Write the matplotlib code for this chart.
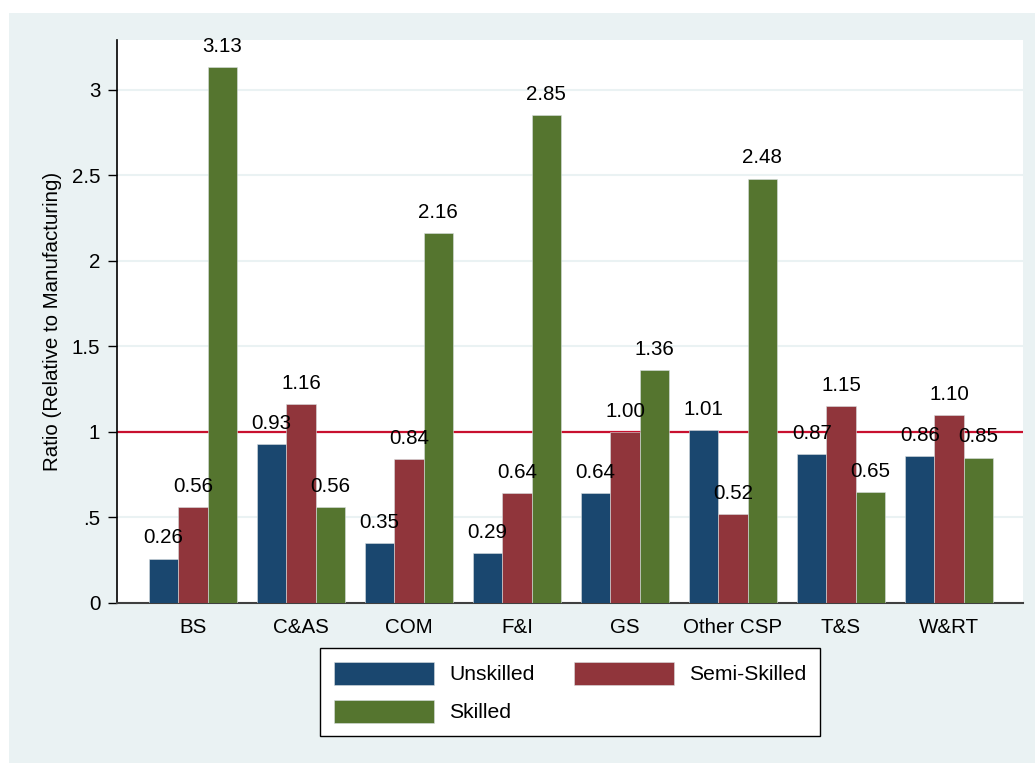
import matplotlib
matplotlib.use('Agg')
import matplotlib.pyplot as plt
import numpy as np
from matplotlib.patches import Rectangle

# Data
sectors = ['BS', 'C&AS', 'COM', 'F&I', 'GS', 'Other CSP', 'T&S', 'W&RT']
unskilled = [0.26, 0.93, 0.35, 0.29, 0.64, 1.01, 0.87, 0.86]
semi_skilled = [0.56, 1.16, 0.84, 0.64, 1.00, 0.52, 1.15, 1.10]
skilled = [3.13, 0.56, 2.16, 2.85, 1.36, 2.48, 0.65, 0.85]
series_names = ['Unskilled', 'Semi-Skilled', 'Skilled']
yticks = [0, 0.5, 1, 1.5, 2, 2.5, 3]
ytick_labels = ['0', '.5', '1', '1.5', '2', '2.5', '3']

#Stata s2color palette
colors = ('#1a476f', '#90353b', '#55752f')
bg = '#eaf2f3'

plt.rcParams['font.family'] = ['Liberation Sans', 'DejaVu Sans']

W, H = 1035, 763
fig = plt.figure(figsize=(W/100, H/100), dpi=100)
fig.patch.set_facecolor('white')
fig.add_artist(Rectangle((9/W, 0), 1 - 9/W, 1 - 13/H, transform=fig.transFigure,
						 facecolor=bg, edgecolor='none', zorder=-10))

ax = fig.add_axes([117/W, 1 - 603/H, (1022.5 - 117)/W, (603 - 40)/H])
ax.set_facecolor('white')

x = np.arange(len(sectors))
w = 0.2716
for k, vals in enumerate([unskilled, semi_skilled, skilled]):
	bars = ax.bar(x + (k - 1)*w, vals, width=w, color=colors[k], edgecolor='#d8dfe0',
				  linewidth=0.4, label=series_names[k], zorder=3)
	for b, v in zip(bars, vals):
		ax.annotate('{:.2f}'.format(v), (b.get_x() + b.get_width()/2, v),
					xytext=(0, 8), textcoords='offset points', ha='center', va='bottom',
					fontsize=14.8, zorder=5)

ax.axhline(1, color='#c8102e', linewidth=1.6, zorder=2)

ax.set_xlim(-0.7037, 7.68)
ax.set_ylim(0, 3.29)
ax.set_yticks(yticks)
ax.set_yticklabels(ytick_labels)
ax.set_xticks(x)
ax.set_xticklabels(sectors)
ax.tick_params(axis='y', length=6.5, width=1, pad=5.5, labelsize=14.8, color='black')
ax.tick_params(axis='x', length=0, pad=11, labelsize=14.8)
ax.grid(axis='y', color=bg, linewidth=1.5, zorder=0)
ax.set_axisbelow(True)

for s in ['top', 'right']:
	ax.spines[s].set_visible(False)
ax.spines['left'].set_color('black')
ax.spines['left'].set_linewidth(1.2)
ax.spines['bottom'].set_color('#404040')
ax.spines['bottom'].set_linewidth(1.5)

ax.set_ylabel('Ratio (Relative to Manufacturing)', fontsize=14.8, labelpad=7)

# legend fills row by row in the original, so reorder for matplotlib's column fill
handles, labels = ax.get_legend_handles_labels()
order = [0, 2, 1]
leg = fig.legend([handles[i] for i in order], [labels[i] for i in order],
				 loc='upper center', bbox_to_anchor=(570/W, 1 - 648/H),
				 ncol=2, fontsize=15.2, frameon=True, fancybox=False, edgecolor='black',
				 facecolor='white', framealpha=1,
				 handlelength=4.75, handleheight=1.3, handletextpad=0.7, columnspacing=1.85,
				 labelspacing=0.7, borderpad=0.65, borderaxespad=0)
leg.get_frame().set_linewidth(1.0)

fig.savefig('out.png', dpi=100, facecolor=fig.get_facecolor())
